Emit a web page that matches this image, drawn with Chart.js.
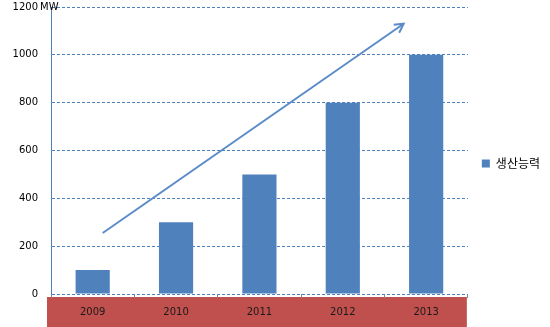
<!DOCTYPE html>
<html>
<head>
<meta charset="utf-8">
<script src="https://cdn.jsdelivr.net/npm/chart.js@4"></script>
<style>
  html, body { margin: 0; padding: 0; background: #fff; }
  #wrap { width: 550px; height: 327px; }
</style>
</head>
<body>
<div id="wrap"><canvas id="c" width="550" height="327"></canvas></div>
<script>
const years = ['2009', '2010', '2011', '2012', '2013'];
const capacity = [100, 300, 500, 800, 1000];
// trend arrow, x in category units (0 = 2009)
const trendX = [0.12, 3.73];
const trendY = [255, 1130];
const seriesName = '생산능력';
const unit = 'MW';

const blue = '#4F81BD';
const red = '#C0504D';

const bandPlugin = {
    id: 'band',
    beforeDraw(chart) {
        const x = chart.scales.x;
        const ctx = chart.ctx;
        ctx.save();
        ctx.fillStyle = red;
        ctx.fillRect(x.left - 4, x.top + 3, x.right - x.left + 3, x.bottom - x.top - 3);
        ctx.restore();
    },
    afterDraw(chart) {
        const y = chart.scales.y;
        const ctx = chart.ctx;
        ctx.save();
        ctx.font = '10px "DejaVu Sans"';
        ctx.fillStyle = '#000';
        ctx.textBaseline = 'middle';
        ctx.fillText(unit, y.right - 11, y.getPixelForValue(1200));
        // arrow head
        const pts = chart.getDatasetMeta(1).data;
        const a = pts[pts.length - 2], b = pts[pts.length - 1];
        const ang = Math.atan2(b.y - a.y, b.x - a.x);
        ctx.strokeStyle = '#5B8BC9';
        ctx.lineWidth = 2;
        ctx.beginPath();
        ctx.moveTo(b.x - 10 * Math.cos(ang - 0.5), b.y - 10 * Math.sin(ang - 0.5));
        ctx.lineTo(b.x, b.y);
        ctx.lineTo(b.x - 10 * Math.cos(ang + 0.5), b.y - 10 * Math.sin(ang + 0.5));
        ctx.stroke();
        ctx.restore();
    }
};

new Chart(document.getElementById('c'), {
    type: 'bar',
    data: {
        labels: years,
        datasets: [
            {
                label: seriesName,
                data: capacity,
                xAxisID: 'x',
                grouped: false,
                backgroundColor: blue,
                categoryPercentage: 1,
                barPercentage: 0.41
            },
            {
                type: 'line',
                label: 'trend',
                xAxisID: 'x2',
                data: trendX.map((v, i) => ({ x: v, y: trendY[i] })),
                borderColor: '#5B8BC9',
                borderWidth: 2,
                pointRadius: 0,
                fill: false
            }
        ]
    },
    options: {
        responsive: false,
        animation: false,
        layout: { padding: { top: 0, right: 0, left: 0, bottom: 0 } },
        plugins: {
            legend: {
                position: 'right',
                labels: {
                    filter: item => item.datasetIndex === 0,
                    boxWidth: 8,
                    boxHeight: 8,
                    padding: 14,
                    color: '#000',
                    font: { family: '"Noto Sans CJK KR"', size: 12 }
                }
            },
            tooltip: { enabled: false }
        },
        scales: {
            x: {
                offset: true,
                afterFit: s => { s.height = 33; },
                grid: {
                    offset: true,
                    drawOnChartArea: false,
                    tickLength: 4,
                    color: '#888'
                },
                border: { display: false },
                ticks: {
                    padding: 8,
                    color: '#1a1a1a',
                    font: { family: '"DejaVu Sans"', size: 10 }
                }
            },
            x2: {
                type: 'linear',
                display: false,
                offset: false,
                grid: { offset: false },
                min: -0.5,
                max: 4.5
            },
            y: {
                min: 0,
                max: 1200,
                afterFit: s => { s.width = 51; s.paddingTop = 7; s.paddingBottom = 0; },
                ticks: {
                    stepSize: 200,
                    padding: 13,
                    color: '#000',
                    callback: v => String(v),
                    font: { family: '"DejaVu Sans"', size: 10 }
                },
                grid: {
                    color: blue,
                    drawTicks: false
                },
                border: { display: true, color: blue, dash: [3, 2] }
            }
        }
    },
    plugins: [bandPlugin]
});
</script>
</body>
</html>
